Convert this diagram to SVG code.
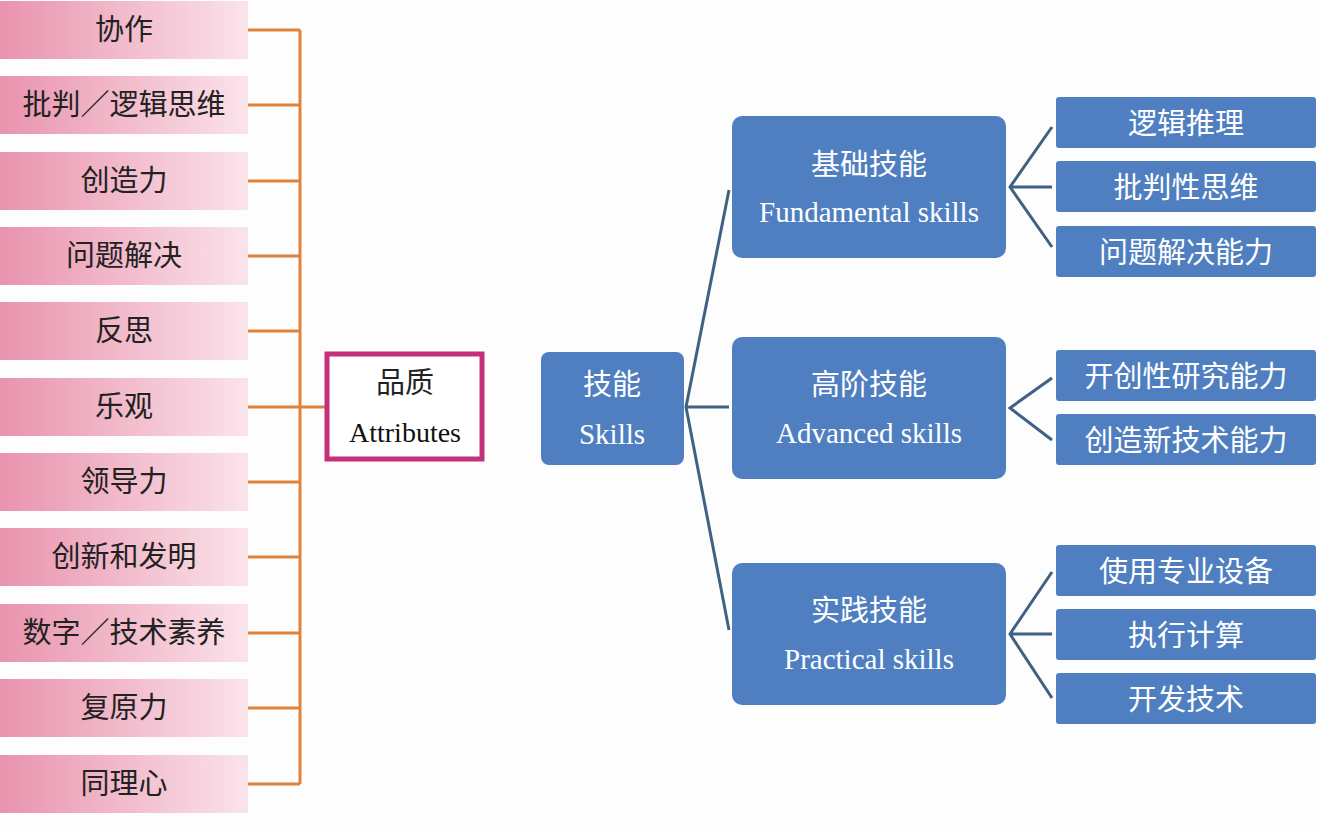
<svg xmlns="http://www.w3.org/2000/svg" width="1320" height="830" viewBox="0 0 1320 830">
<defs>
<linearGradient id="pk" x1="0" y1="0" x2="1" y2="0"><stop offset="0" stop-color="#e993ae"/><stop offset="1" stop-color="#fbe3ea"/></linearGradient>
<style>
.p{fill:url(#pk)}
.pt{font-family:"Noto Sans CJK SC",sans-serif;font-size:29px;fill:#222;text-anchor:middle}
.b{fill:#4f7fc1}
.bt{font-family:"Liberation Serif","Noto Sans CJK SC",serif;font-size:29px;fill:#fff;text-anchor:middle}
.ct{font-family:"Noto Sans CJK SC",sans-serif;font-size:29px;fill:#fff;text-anchor:middle}
.o{stroke:#e0823a;stroke-width:3;fill:none}
.l{stroke:#3f6183;stroke-width:3;fill:none}
</style>
</defs>
<rect width="1320" height="830" fill="#fdfdfd"/>
<g id="connectors">
<path class="o" d="M300 30V784M248 30H300M248 105H300M248 181H300M248 256H300M248 331H300M248 407H325M248 482H300M248 557H300M248 633H300M248 708H300M248 784H300"/>
<path class="l" d="M729 190L686 407L729 630M686 407H729"/>
<path class="l" d="M1052 127L1010 187L1052 247M1010 187H1052"/>
<path class="l" d="M1052 378L1010 408L1052 440"/>
<path class="l" d="M1052 572L1010 634L1052 698M1010 634H1052"/>
</g>
<g id="left">
<g id="n1"><rect class="p" x="0" y="1" width="248" height="58"/><text class="pt" x="124" y="40">协作</text></g>
<g id="n2"><rect class="p" x="0" y="76" width="248" height="58"/><text class="pt" x="124" y="115">批判／逻辑思维</text></g>
<g id="n3"><rect class="p" x="0" y="152" width="248" height="58"/><text class="pt" x="124" y="191">创造力</text></g>
<g id="n4"><rect class="p" x="0" y="227" width="248" height="58"/><text class="pt" x="124" y="266">问题解决</text></g>
<g id="n5"><rect class="p" x="0" y="302" width="248" height="58"/><text class="pt" x="124" y="341">反思</text></g>
<g id="n6"><rect class="p" x="0" y="378" width="248" height="58"/><text class="pt" x="124" y="417">乐观</text></g>
<g id="n7"><rect class="p" x="0" y="453" width="248" height="58"/><text class="pt" x="124" y="492">领导力</text></g>
<g id="n8"><rect class="p" x="0" y="528" width="248" height="58"/><text class="pt" x="124" y="567">创新和发明</text></g>
<g id="n9"><rect class="p" x="0" y="604" width="248" height="58"/><text class="pt" x="124" y="643">数字／技术素养</text></g>
<g id="n10"><rect class="p" x="0" y="679" width="248" height="58"/><text class="pt" x="124" y="718">复原力</text></g>
<g id="n11"><rect class="p" x="0" y="755" width="248" height="58"/><text class="pt" x="124" y="794">同理心</text></g>
</g>
<g id="attributes"><rect x="327" y="354" width="155" height="105" fill="#fff" stroke="#c62f79" stroke-width="5"/>
<text class="pt" x="405" y="393" font-size="27">品质</text>
<text x="405" y="442" font-family="Liberation Serif,serif" font-size="28" text-anchor="middle" fill="#111">Attributes</text></g>
<g id="skills"><rect class="b" x="541" y="352" width="143" height="113" rx="8"/>
<text class="ct" x="612" y="395">技能</text><text class="bt" x="612" y="444">Skills</text></g>
<g id="fund"><rect class="b" x="732" y="116" width="274" height="142" rx="10"/>
<text class="ct" x="869" y="175">基础技能</text><text class="bt" x="869" y="222">Fundamental skills</text></g>
<g id="adv"><rect class="b" x="732" y="337" width="274" height="142" rx="10"/>
<text class="ct" x="869" y="395">高阶技能</text><text class="bt" x="869" y="443">Advanced skills</text></g>
<g id="prac"><rect class="b" x="732" y="563" width="274" height="142" rx="10"/>
<text class="ct" x="869" y="621">实践技能</text><text class="bt" x="869" y="669">Practical skills</text></g>
<g id="sub">
<g id="s1"><rect class="b" x="1056" y="97" width="260" height="51" rx="3"/><text class="ct" x="1186" y="134">逻辑推理</text></g>
<g id="s2"><rect class="b" x="1056" y="161" width="260" height="51" rx="3"/><text class="ct" x="1186" y="198">批判性思维</text></g>
<g id="s3"><rect class="b" x="1056" y="226" width="260" height="51" rx="3"/><text class="ct" x="1186" y="263">问题解决能力</text></g>
<g id="s4"><rect class="b" x="1056" y="350" width="260" height="51" rx="3"/><text class="ct" x="1186" y="387">开创性研究能力</text></g>
<g id="s5"><rect class="b" x="1056" y="414" width="260" height="51" rx="3"/><text class="ct" x="1186" y="451">创造新技术能力</text></g>
<g id="s6"><rect class="b" x="1056" y="545" width="260" height="51" rx="3"/><text class="ct" x="1186" y="582">使用专业设备</text></g>
<g id="s7"><rect class="b" x="1056" y="609" width="260" height="51" rx="3"/><text class="ct" x="1186" y="646">执行计算</text></g>
<g id="s8"><rect class="b" x="1056" y="673" width="260" height="51" rx="3"/><text class="ct" x="1186" y="710">开发技术</text></g>
</g>
</svg>
